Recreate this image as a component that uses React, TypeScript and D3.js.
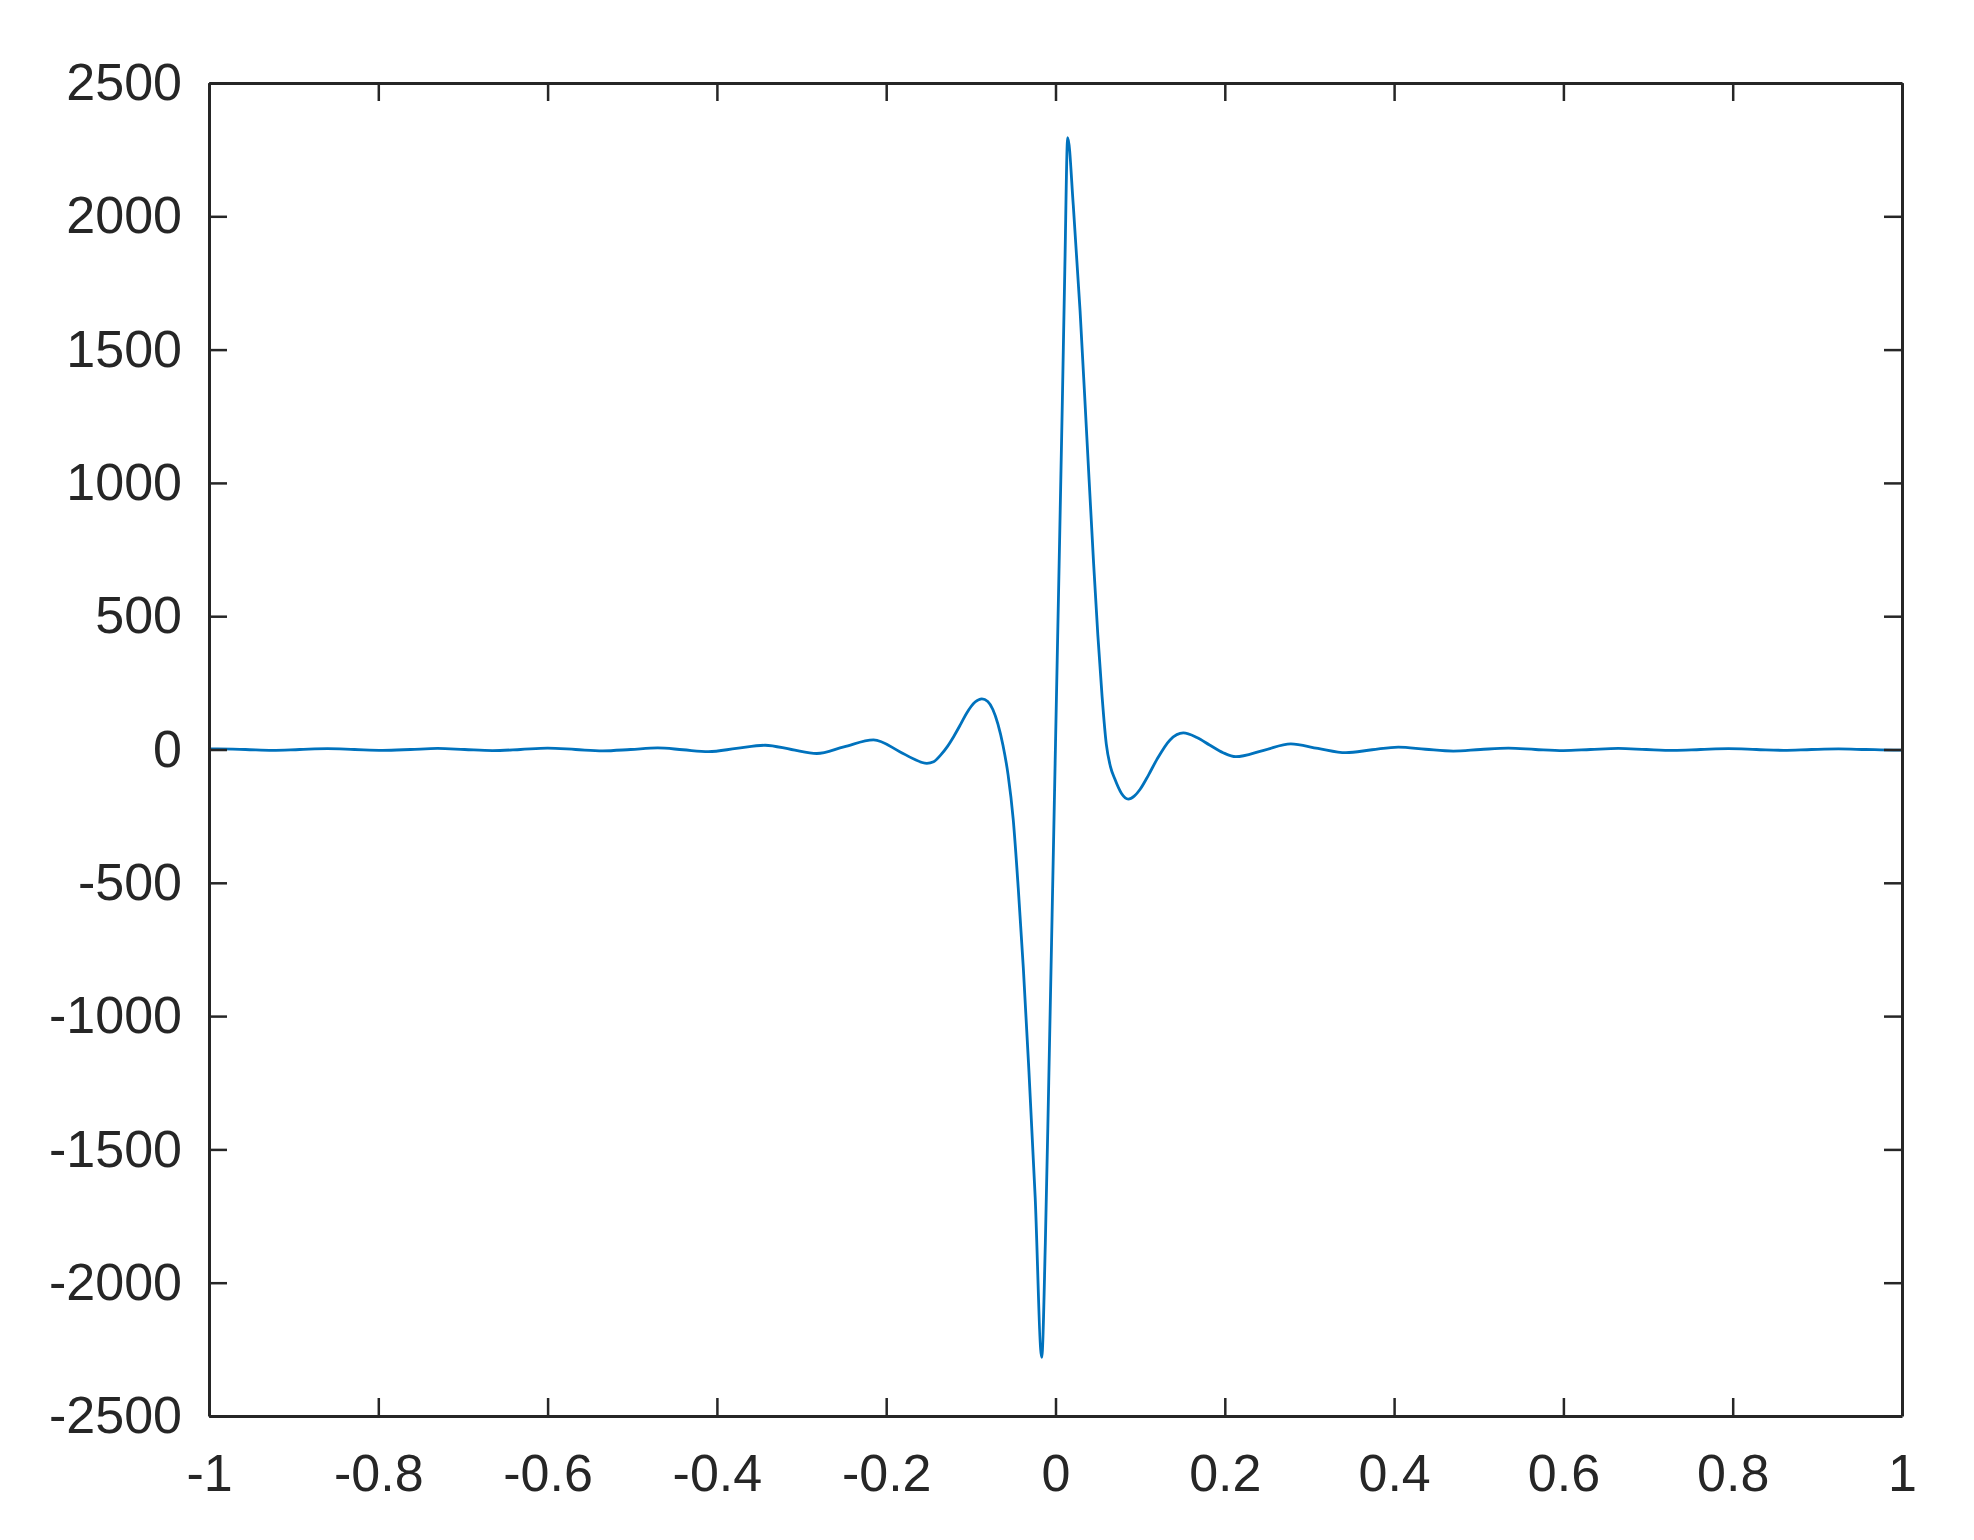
import React, { useRef, useEffect } from "react";
import * as d3 from "d3";

// curve samples (x, value)
const xValues = [
  -1, -0.99, -0.957, -0.925, -0.893, -0.86, -0.828, -0.795, -0.762, -0.73,
  -0.698, -0.665, -0.632, -0.6, -0.567, -0.535, -0.502, -0.47, -0.44, -0.41,
  -0.377, -0.343, -0.312, -0.282, -0.25, -0.215, -0.184, -0.168, -0.152,
  -0.144, -0.136, -0.128, -0.12, -0.112, -0.105, -0.095, -0.087, -0.08,
  -0.074, -0.068, -0.062, -0.056, -0.05, -0.044, -0.038, -0.032, -0.024,
  -0.0163, -0.012, -0.008, -0.004, 0, 0.004, 0.008, 0.011, 0.0144, 0.021,
  0.029, 0.037, 0.045, 0.05, 0.055, 0.06, 0.065, 0.07, 0.078, 0.086, 0.093,
  0.0998, 0.11, 0.1195, 0.1353, 0.151, 0.167, 0.182, 0.198, 0.213, 0.246,
  0.278, 0.31, 0.343, 0.374, 0.405, 0.437, 0.47, 0.502, 0.535, 0.567, 0.6,
  0.632, 0.665, 0.698, 0.73, 0.762, 0.795, 0.828, 0.86, 0.893, 0.925, 0.957,
  0.99, 1,
];
const yValues = [
  2, 2, 0, -3, 0, 3, 0, -3, 0, 4,
  0, -4, 0, 5, 0, -5, 0, 6, -1, -8,
  4, 16, 0, -15, 10, 36, -8, -35, -52,
  -46, -22, 10, 50, 95, 136, 178, 190, 180,
  150, 95, 15, -95, -260, -520, -820, -1170, -1680,
  -2280, -1850, -1250, -620, 20, 650, 1290, 1800, 2295, 2042,
  1647, 1173, 699, 430, 200, 20, -65, -110, -165, -186, -175,
  -150, -95, -39, 36, 62, 45, 17, -12, -27, -3,
  21, 4, -12, -1, 9, 1, -6, 0, 5, 0, -4,
  0, 4, 0, -3, 0, 3, 0, -3, 0, 2, 0,
  -2, -2,
];

const xTicks = [-1, -0.8, -0.6, -0.4, -0.2, 0, 0.2, 0.4, 0.6, 0.8, 1];
const yTicks = [-2500, -2000, -1500, -1000, -500, 0, 500, 1000, 1500, 2000, 2500];

const Chart = () => {
  const ref = useRef(null);

  useEffect(() => {
    if (!ref.current) return;
    const svg = d3.select(ref.current);
    svg.selectAll("*").remove();

    const margin = { top: 83, right: 72, bottom: 124, left: 209 };
    const width = 1974 - margin.left - margin.right;
    const height = 1540 - margin.top - margin.bottom;
    const axisColor = "#262626";
    const font = "'Liberation Sans', Arial, Helvetica, sans-serif";

    svg.append("rect").attr("width", 1974).attr("height", 1540).attr("fill", "#fff");

    const chart = svg
      .append("g")
      .attr("transform", `translate(${margin.left},${margin.top})`);

    const xScale = d3.scaleLinear().domain([-1, 1]).range([0, width]);
    const yScale = d3.scaleLinear().domain([-2500, 2500]).range([height, 0]);

    const data = xValues.map((x, i) => ({ x, y: yValues[i] }));

    const line = d3
      .line()
      .x((d) => xScale(d.x))
      .y((d) => yScale(d.y))
      .curve(d3.curveMonotoneX);

    chart
      .append("path")
      .datum(data)
      .attr("d", line)
      .attr("fill", "none")
      .attr("stroke", "#0072BD")
      .attr("stroke-width", 2.8)
      .attr("stroke-linejoin", "round");

    const fmt = (d) => String(d);

    const styleAxis = (g) => {
      g.selectAll(".domain").attr("stroke", axisColor).attr("stroke-width", 3).attr("fill", "none");
      g.selectAll(".tick line").attr("stroke", axisColor).attr("stroke-width", 2.5);
      g.selectAll(".tick text")
        .attr("fill", axisColor)
        .style("font-family", font)
        .style("font-size", "52px");
    };

    // bottom
    chart
      .append("g")
      .attr("transform", `translate(0,${height})`)
      .call(
        d3.axisBottom(xScale).tickValues(xTicks).tickFormat(fmt)
          .tickSizeInner(-18).tickSizeOuter(0).tickPadding(38)
      )
      .call(styleAxis);

    // top
    chart
      .append("g")
      .call(
        d3.axisTop(xScale).tickValues(xTicks).tickFormat(() => "")
          .tickSizeInner(-18).tickSizeOuter(0)
      )
      .call(styleAxis);

    // left
    chart
      .append("g")
      .call(
        d3.axisLeft(yScale).tickValues(yTicks).tickFormat(fmt)
          .tickSizeInner(-18).tickSizeOuter(0).tickPadding(27)
      )
      .call(styleAxis);

    // right
    chart
      .append("g")
      .attr("transform", `translate(${width},0)`)
      .call(
        d3.axisRight(yScale).tickValues(yTicks).tickFormat(() => "")
          .tickSizeInner(-18).tickSizeOuter(0)
      )
      .call(styleAxis);
  }, []);

  return (
    <svg
      ref={ref}
      width={1974}
      height={1540}
      style={{ position: "absolute", left: 0, top: 0, display: "block" }}
    />
  );
};

export default function App() {
  return <Chart />;
}
